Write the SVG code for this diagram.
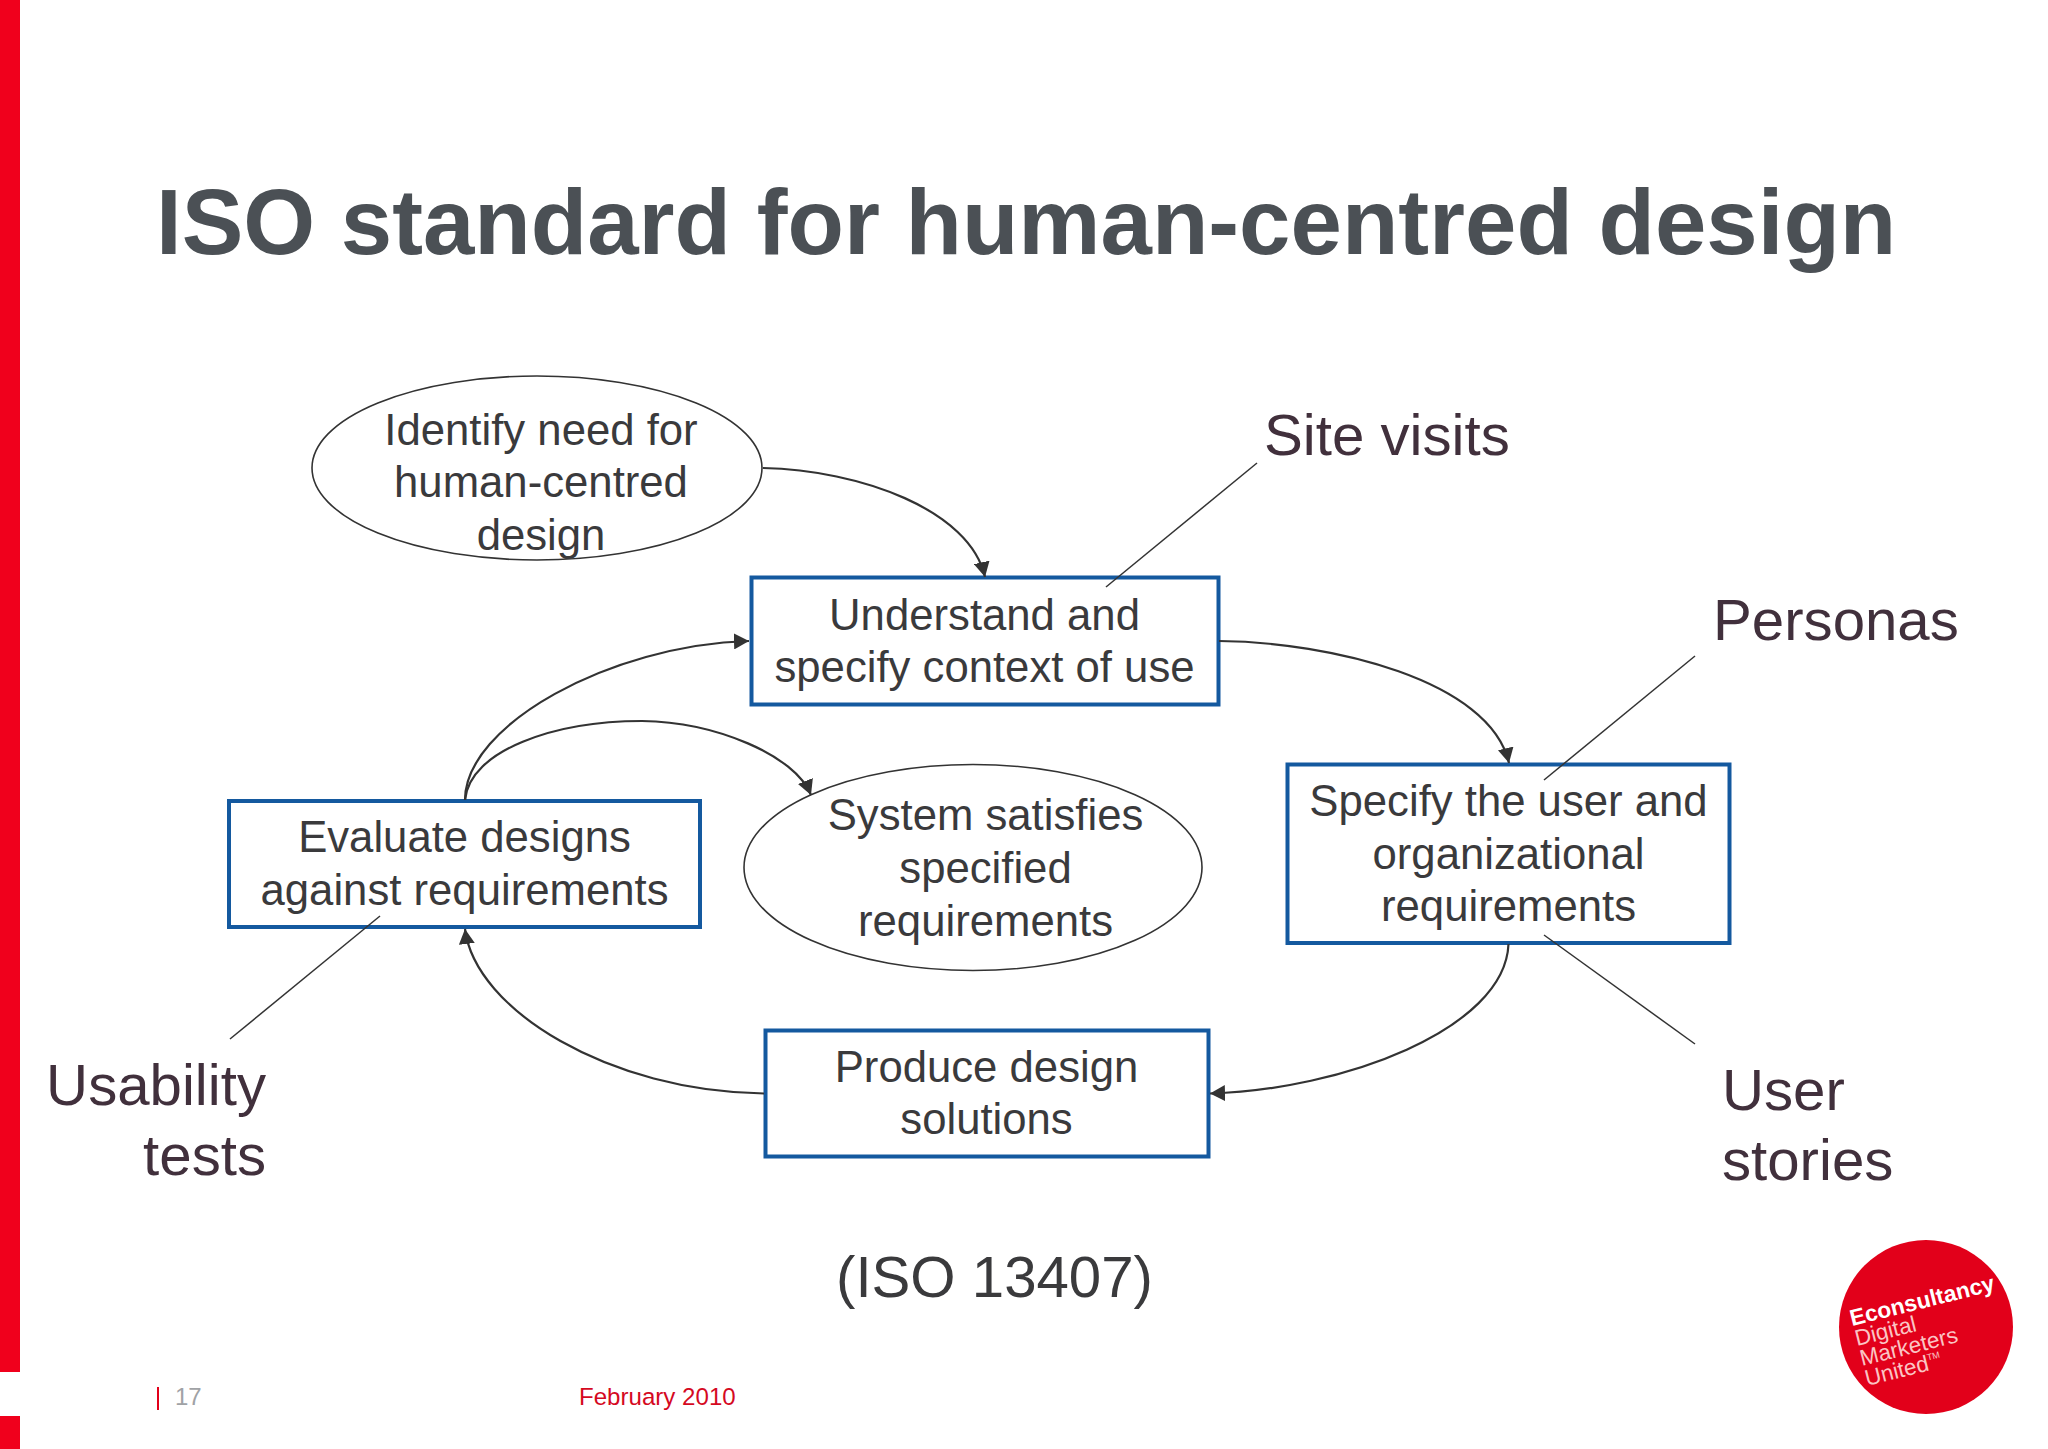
<svg xmlns="http://www.w3.org/2000/svg" width="2048" height="1449" viewBox="0 0 2048 1449">
<style>
text{font-family:"Liberation Sans",Arial,sans-serif}
.box{fill:#fff;stroke:#14599f;stroke-width:4}
.ell{fill:#fff;stroke:#333;stroke-width:1.6}
.t{font-size:43.7px;fill:#3a3a3c;text-anchor:middle}
.b{font-size:58.2px;fill:#41303c}
.c{fill:none;stroke:#333;stroke-width:2.2}
.l{fill:none;stroke:#333;stroke-width:1.5}
.lg{font-size:22.5px;fill:#fbc4c4}
</style>
<defs><marker id="a" markerUnits="userSpaceOnUse" markerWidth="16" markerHeight="16" refX="15" refY="8" orient="auto"><path d="M0 0L15 8L0 16Z" fill="#333"/></marker></defs>
<rect width="2048" height="1449" fill="#fff"/>
<rect x="0" y="0" width="20" height="1372" fill="#f0001c"/>
<rect x="0" y="1416" width="20" height="33" fill="#f0001c"/>
<text x="156" y="254" font-size="92.4" font-weight="700" fill="#4b5055">ISO standard for human-centred design</text>
<g id="n1"><ellipse class="ell" cx="537" cy="468" rx="225" ry="92"/><text class="t" x="541" y="445">Identify need for</text><text class="t" x="541" y="497">human-centred</text><text class="t" x="541" y="550">design</text></g>
<g id="n2"><rect class="box" x="751.500" y="577.500" width="467" height="127"/><text class="t" x="984.500" y="630">Understand and</text><text class="t" x="984.500" y="682">specify context of use</text></g>
<g id="n3"><rect class="box" x="1287.500" y="764.500" width="442" height="178.500"/><text class="t" x="1508.500" y="816">Specify the user and</text><text class="t" x="1508.500" y="868.500">organizational</text><text class="t" x="1508.500" y="921">requirements</text></g>
<g id="n4"><rect class="box" x="765.500" y="1030.500" width="443" height="126"/><text class="t" x="986.500" y="1082">Produce design</text><text class="t" x="986.500" y="1134">solutions</text></g>
<g id="n5"><rect class="box" x="229" y="801" width="471" height="126"/><text class="t" x="464.500" y="852">Evaluate designs</text><text class="t" x="464.500" y="905">against requirements</text></g>
<g id="n6"><ellipse class="ell" cx="973" cy="867.500" rx="229" ry="103"/><text class="t" x="985.500" y="830">System satisfies</text><text class="t" x="985.500" y="883">specified</text><text class="t" x="985.500" y="935.500">requirements</text></g>
<g id="connectors">
<path class="c" marker-end="url(#a)" d="M763 468C860 470 970 510 985 577"/>
<path class="c" marker-end="url(#a)" d="M1219 641C1330 642 1490 680 1509 763"/>
<path class="c" marker-end="url(#a)" d="M1508.500 944C1505 1030 1340 1090 1210 1093.500"/>
<path class="c" marker-end="url(#a)" d="M764 1093.500C610 1092 475 1010 465 929"/>
<path class="c" marker-end="url(#a)" d="M465 800C465 725 610 645 749 641"/>
<path class="c" marker-end="url(#a)" d="M465 800C470 750 555 721 642 721C715 722 795 755 811 795"/>
<line class="l" x1="1106" y1="587" x2="1257" y2="463"/>
<line class="l" x1="1544" y1="780" x2="1695" y2="656"/>
<line class="l" x1="1544" y1="935" x2="1695" y2="1044"/>
<line class="l" x1="380" y1="916" x2="230" y2="1039"/>
</g>
<text class="b" x="1264" y="455">Site visits</text>
<text class="b" x="1713" y="640">Personas</text>
<text class="b" x="1722" y="1110">User</text>
<text class="b" x="1722" y="1180">stories</text>
<text class="b" x="266" y="1104.500" text-anchor="end">Usability</text>
<text class="b" x="266" y="1174.500" text-anchor="end">tests</text>
<text class="b" x="836" y="1296.500" style="fill:#3a3a3c">(ISO 13407)</text>
<rect x="157" y="1387" width="2" height="23" fill="#e2001a"/>
<text x="175" y="1405" font-size="24" fill="#a0a2a5">17</text>
<text x="579" y="1405" font-size="24.100" fill="#d5091f">February 2010</text>
<g id="logo"><circle cx="1926" cy="1327" r="87" fill="#e2001a"/>
<text transform="translate(1852 1326) rotate(-14)" font-size="22.800" font-weight="700" fill="#fff">Econsultancy</text>
<text class="lg" transform="translate(1857 1346) rotate(-14)">Digital</text>
<text class="lg" transform="translate(1862 1366) rotate(-14)">Marketers</text>
<text class="lg" transform="translate(1867 1386) rotate(-14)">United<tspan font-size="9" dy="-10">TM</tspan></text></g>
</svg>
